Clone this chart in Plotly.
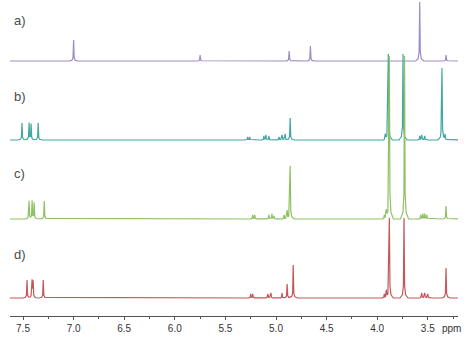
import numpy as np
import plotly.graph_objects as go

# ---- data (chemical shift in ppm, peak height in px) ----
ppm_a = [7.00, 5.75, 4.87, 4.66, 3.58, 3.32]
int_a = [21, 6, 10, 15, 59, 6]

ppm_b = [7.51, 7.44, 7.42, 7.35, 5.28, 5.26, 5.12, 5.10, 5.07, 4.97, 4.94, 4.91, 4.86,
         3.92, 3.89, 3.745, 3.58, 3.56, 3.53, 3.36, 3.33]
int_b = [17, 17, 16, 17, 3, 3, 4, 5, 4, 3, 5, 6, 22,
         5, 86, 86, 4, 5, 4, 72, 5]

ppm_c = [7.44, 7.41, 7.39, 7.29, 5.23, 5.21, 5.07, 5.04, 5.02, 4.92, 4.89, 4.86,
         3.93, 3.91, 3.88, 3.73, 3.57, 3.55, 3.53, 3.51, 3.32]
int_c = [18, 18, 16, 18, 4, 4, 4, 5, 3, 4, 8, 53,
         4, 7, 163, 163, 4, 5, 5, 4, 13]

ppm_d = [7.46, 7.41, 7.40, 7.30, 5.25, 5.23, 5.08, 5.05, 4.94, 4.89, 4.83,
         3.93, 3.91, 3.88, 3.735, 3.56, 3.53, 3.50, 3.32]
int_d = [18, 17, 16, 18, 4, 4, 4, 5, 5, 14, 33,
         4, 7, 80, 80, 5, 5, 4, 30]

labels = ["a)", "b)", "c)", "d)"]
tick_vals = [7.5, 7.0, 6.5, 6.0, 5.5, 5.0, 4.5, 4.0, 3.5]
tick_text = ["7.5", "7.0", "6.5", "6.0", "5.5", "5.0", "4.5", "4.0", "3.5"]
axis_unit = "ppm"

# ---- styling / layout ----
W, H = 474, 355
colors = ["#9d8cc6", "#43a89d", "#8fc164", "#c4575b"]
offsets = [294, 215, 136, 57]          # baseline heights (y from bottom, px)
label_y = [335, 258, 182, 100]
PPM_HI, PPM_LO = 7.6285, 3.2016

SHAPE_DX = np.array([-0.04, -0.016, -0.006, 0.0, 0.006, 0.016, 0.04])
SHAPE_F = np.array([0.0, 0.04, 0.15, 1.0, 0.15, 0.04, 0.0])


def build(ppm, inten, lo=3.19, hi=7.63):
    xs = [lo, hi] + [p + d for p in ppm for d in SHAPE_DX]
    xs = np.unique(np.clip(xs, lo, hi))
    ys = np.zeros_like(xs)
    for p, h in zip(ppm, inten):
        ys += h * np.interp(xs - p, SHAPE_DX, SHAPE_F, left=0, right=0)
    return xs, ys


fig = go.Figure()
for (ppm, inten), col, off in zip([(ppm_a, int_a), (ppm_b, int_b), (ppm_c, int_c), (ppm_d, int_d)],
                                  colors, offsets):
    xs, ys = build(ppm, inten)
    fig.add_trace(go.Scatter(x=xs, y=ys + off, mode="lines",
                             line=dict(color=col, width=1.2), hoverinfo="skip",
                             showlegend=False))

for lab, ly in zip(labels, label_y):
    fig.add_annotation(x=12 / W, y=ly / H, xref="paper", yref="paper", text=lab,
                       showarrow=False, xanchor="left", yanchor="middle",
                       font=dict(family="Liberation Sans, Arial", size=13, color="#4a4a4a"))

fig.add_annotation(x=451 / W, y=(H - 328) / H, xref="paper", yref="paper", text=axis_unit,
                   showarrow=False, xanchor="center", yanchor="middle",
                   font=dict(family="Liberation Sans, Arial", size=10, color="#333333"))

fig.update_layout(
    width=W, height=H, margin=dict(l=0, r=0, t=0, b=0),
    paper_bgcolor="white", plot_bgcolor="white",
    xaxis=dict(domain=[10 / W, 458 / W], range=[PPM_HI, PPM_LO], anchor="free",
               position=(H - 316) / H, showline=True, linecolor="#555555", linewidth=1,
               showgrid=False, zeroline=False, tickmode="array", tickvals=tick_vals,
               ticktext=tick_text, ticks="outside", ticklen=3, tickcolor="#555555",
               tickfont=dict(family="Liberation Sans, Arial", size=10, color="#333333"),
               minor=dict(dtick=0.25, tick0=3.25, ticks="outside", ticklen=2,
                          tickcolor="#555555", showgrid=False)),
    yaxis=dict(domain=[0, 1], range=[0, H], visible=False, showgrid=False, zeroline=False),
)

fig.write_html("out.html")
